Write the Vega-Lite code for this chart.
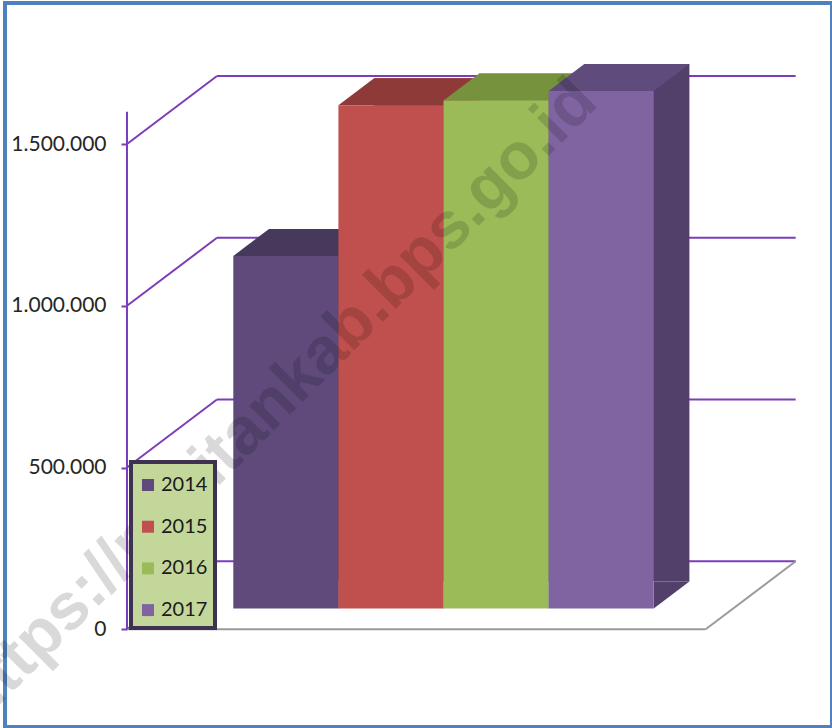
{
  "$schema": "https://vega.github.io/schema/vega-lite/v6.json",
  "width": 827,
  "height": 724,
  "autosize": "none",
  "padding": {"left": 5, "top": 3, "right": 0, "bottom": 1},
  "background": "white",
  "config": {
    "view": {"stroke": "#4f81bd", "strokeWidth": 4, "fill": "white"},
    "legend": {"strokeWidth": 4},
    "locale": {"number": {"decimal": ",", "thousands": ".", "grouping": [3], "currency": ["", ""]}}
  },
  "datasets": {
    "bars": [
      {"year": "2014", "value": 1090000},
      {"year": "2015", "value": 1556000},
      {"year": "2016", "value": 1571000},
      {"year": "2017", "value": 1600000}
    ],
    "ticks": [{"t": 0}, {"t": 500000}, {"t": 1000000}, {"t": 1500000}],
    "one": [{"label": "https://pacitankab.bps.go.id"}]
  },
  "resolve": {"scale": {"x": "independent", "color": "independent"}, "axis": {"y": "independent"}},
  "layer": [
    {
      "data": {"name": "ticks"},
      "mark": {"type": "rule", "color": "#7d3cb8", "strokeWidth": 2, "xOffset": 90, "x2Offset": 90, "yOffset": -68},
      "encoding": {
        "x": {"datum": 0, "type": "quantitative", "scale": {"domain": [-0.2108, 1.2183], "nice": false, "zero": false}, "axis": null},
        "x2": {"datum": 1},
        "y": {"field": "t", "type": "quantitative", "scale": {"domain": [-302000, 1936000], "nice": false, "zero": false},
          "axis": {"values": [0, 500000, 1000000, 1500000], "format": ",d", "domain": false, "grid": false, "offset": -122,
            "tickColor": "#7d3cb8", "tickSize": 6, "tickWidth": 2, "labelFont": "Lato", "labelFontSize": 21,
            "labelColor": "#262626", "labelPadding": 15, "title": null}}
      }
    },
    {
      "data": {"name": "ticks"},
      "mark": {"type": "rule", "color": "#7d3cb8", "strokeWidth": 2, "x2Offset": 90, "y2Offset": -68},
      "encoding": {
        "x": {"datum": 0, "type": "quantitative", "scale": {"domain": [-0.2108, 1.2183], "nice": false, "zero": false}, "axis": null},
        "x2": {"datum": 0},
        "y": {"field": "t", "type": "quantitative", "scale": {"domain": [-302000, 1936000], "nice": false, "zero": false}, "axis": null},
        "y2": {"field": "t"}
      }
    },
    {
      "data": {"name": "one"},
      "mark": {"type": "rule", "color": "#9a9a9a", "strokeWidth": 2},
      "encoding": {
        "x": {"datum": 0, "type": "quantitative", "scale": {"domain": [-0.2108, 1.2183], "nice": false, "zero": false}, "axis": null},
        "x2": {"datum": 1},
        "y": {"datum": 0, "type": "quantitative", "scale": {"domain": [-302000, 1936000], "nice": false, "zero": false}, "axis": null}
      }
    },
    {
      "data": {"name": "one"},
      "mark": {"type": "rule", "color": "#9a9a9a", "strokeWidth": 2, "x2Offset": 90, "y2Offset": -68},
      "encoding": {
        "x": {"datum": 1, "type": "quantitative", "scale": {"domain": [-0.2108, 1.2183], "nice": false, "zero": false}, "axis": null},
        "x2": {"datum": 1},
        "y": {"datum": 0, "type": "quantitative", "scale": {"domain": [-302000, 1936000], "nice": false, "zero": false}, "axis": null},
        "y2": {"datum": 0}
      }
    },
    {
      "data": {"name": "one"},
      "mark": {"type": "rule", "color": "#7d3cb8", "strokeWidth": 2},
      "encoding": {
        "x": {"datum": 0, "type": "quantitative", "scale": {"domain": [-0.2108, 1.2183], "nice": false, "zero": false}, "axis": null},
        "y": {"datum": 0, "type": "quantitative", "scale": {"domain": [-302000, 1936000], "nice": false, "zero": false}, "axis": null},
        "y2": {"datum": 1600000}
      }
    },
    {
      "data": {"name": "bars"},
      "mark": {"type": "bar", "xOffset": 63.1, "yOffset": -47.7, "y2Offset": -47.7},
      "encoding": {
        "x": {"field": "year", "type": "nominal", "scale": {"type": "band", "domain": ["2014", "2015", "2016", "2017"], "range": [200.9, 621.3], "paddingInner": 0, "paddingOuter": 0}, "axis": null},
        "y": {"field": "value", "type": "quantitative", "scale": {"domain": [-302000, 1936000], "nice": false, "zero": false}, "axis": null},
        "y2": {"datum": 0},
        "color": {"field": "year", "type": "nominal", "scale": {"domain": ["2014", "2015", "2016", "2017"], "range": ["#3f3151", "#8a3a37", "#6f8a3a", "#52406a"]}, "legend": null}
      }
    },
    {
      "data": {"name": "bars"},
      "mark": {"type": "point", "shape": "M52.55,0L52.55,-27L88.25,-27Z", "size": 4, "filled": true, "opacity": 1, "strokeWidth": 0, "xOffset": 27.4, "yOffset": -20.7},
      "encoding": {
        "x": {"field": "year", "type": "nominal", "scale": {"type": "band", "domain": ["2014", "2015", "2016", "2017"], "range": [200.9, 621.3], "paddingInner": 0, "paddingOuter": 0}, "axis": null},
        "y": {"datum": 0, "type": "quantitative", "scale": {"domain": [-302000, 1936000], "nice": false, "zero": false}, "axis": null},
        "color": {"field": "year", "type": "nominal", "scale": {"domain": ["2014", "2015", "2016", "2017"], "range": ["#3f3151", "#8a3a37", "#6f8a3a", "#52406a"]}, "legend": null}
      }
    },
    {
      "data": {"name": "bars"},
      "mark": {"type": "point", "shape": "M-52.55,0L52.55,0L88.25,-27L-16.85,-27Z", "size": 4, "filled": true, "opacity": 1, "strokeWidth": 0, "xOffset": 27.4, "yOffset": -20.7},
      "encoding": {
        "x": {"field": "year", "type": "nominal", "scale": {"type": "band", "domain": ["2014", "2015", "2016", "2017"], "range": [200.9, 621.3], "paddingInner": 0, "paddingOuter": 0}, "axis": null},
        "y": {"field": "value", "type": "quantitative", "scale": {"domain": [-302000, 1936000], "nice": false, "zero": false}, "axis": null},
        "color": {"field": "year", "type": "nominal", "scale": {"domain": ["2014", "2015", "2016", "2017"], "range": ["#47395b", "#8e3a38", "#76923c", "#604c7c"]}, "legend": null}
      }
    },
    {
      "data": {"name": "bars"},
      "mark": {"type": "bar", "xOffset": 27.4, "yOffset": -20.7, "y2Offset": -20.7},
      "encoding": {
        "x": {"field": "year", "type": "nominal", "scale": {"type": "band", "domain": ["2014", "2015", "2016", "2017"], "range": [200.9, 621.3], "paddingInner": 0, "paddingOuter": 0}, "axis": null},
        "y": {"field": "value", "type": "quantitative", "scale": {"domain": [-302000, 1936000], "nice": false, "zero": false}, "axis": null},
        "y2": {"datum": 0},
        "color": {"field": "year", "type": "nominal", "scale": {"domain": ["2014", "2015", "2016", "2017"], "range": ["#5f4a7b", "#c0504d", "#9bbb59", "#8064a2"]},
          "legend": {"title": " ", "titleFontSize": 1, "titlePadding": 5, "orient": "none", "legendX": 126, "legendY": 459, "fillColor": "#c4d79b", "strokeColor": "#3f3151",
            "padding": 7, "symbolType": "square", "symbolSize": 144, "symbolStrokeWidth": 0, "symbolOpacity": 1, "labelOffset": 3,
            "labelFont": "Lato", "labelFontSize": 20, "labelColor": "#1a1a1a", "rowPadding": 21.7}}
      }
    },
    {
      "data": {"name": "one"},
      "mark": {"type": "text", "angle": -45, "font": "Liberation Sans", "fontWeight": "bold", "fontSize": 66, "fill": "#000000", "opacity": 0.145, "align": "center", "baseline": "middle"},
      "encoding": {
        "x": {"datum": 0.2575, "type": "quantitative", "scale": {"domain": [-0.2108, 1.2183], "nice": false, "zero": false}, "axis": null},
        "y": {"datum": 708000, "type": "quantitative", "scale": {"domain": [-302000, 1936000], "nice": false, "zero": false}, "axis": null},
        "text": {"field": "label"}
      }
    }
  ]
}
